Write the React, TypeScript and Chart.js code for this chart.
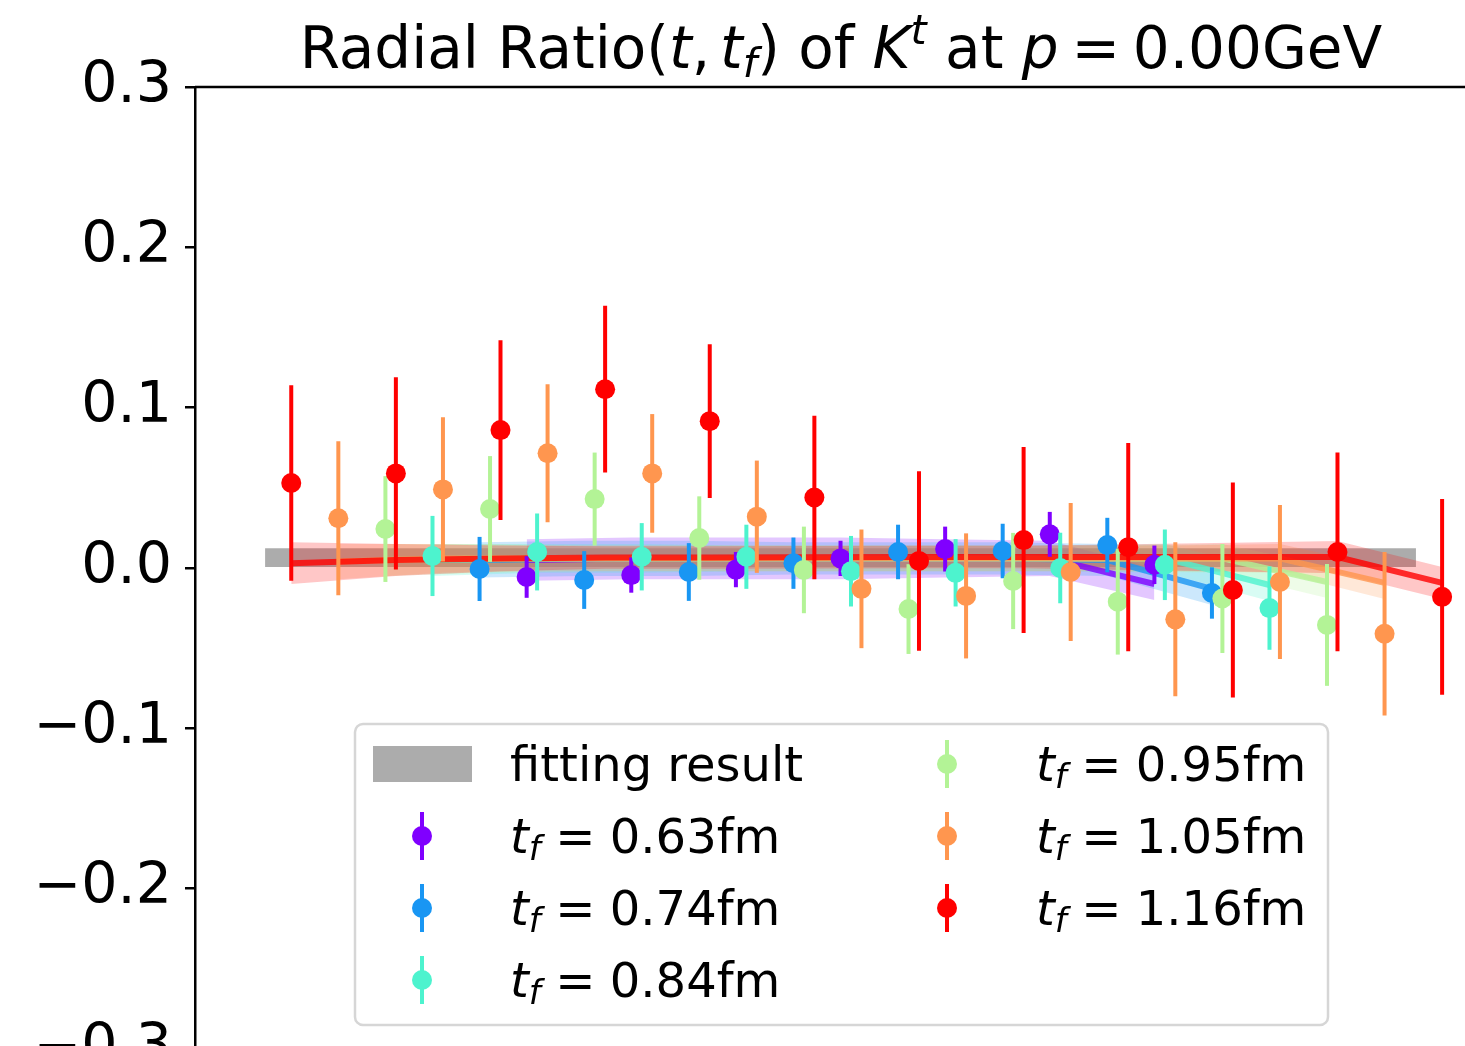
import React, { useEffect, useRef } from 'react';
import { Chart, registerables } from 'chart.js';

Chart.register(...registerables);

// ---------- data ----------
const TF_LABELS = ['0.63fm', '0.74fm', '0.84fm', '0.95fm', '1.05fm', '1.16fm'];
const TF_COLORS = ['#8000ff', '#1996f3', '#4df3ce', '#b3f396', '#ff964f', '#ff0000'];

const X_063 = [-3, -2, -1, 0, 1, 2, 3];
const Y_063 = [-0.0056, -0.0044, -0.001, 0.006, 0.0118, 0.021, 0.002];
const E_063 = [0.013, 0.011, 0.011, 0.011, 0.014, 0.014, 0.012];
const FIT_063 = [0.005, 0.006, 0.006, 0.006, 0.006, 0.006, -0.010];
const BAND_063 = [0.013, 0.013, 0.013, 0.013, 0.012, 0.011, 0.010];

const X_074 = [-3.45, -2.45, -1.45, -0.45, 0.55, 1.55, 2.55, 3.55];
const Y_074 = [-0.0006, -0.0075, -0.0025, 0.003, 0.010, 0.0106, 0.0143, -0.0156];
const E_074 = [0.020, 0.018, 0.018, 0.016, 0.017, 0.017, 0.017, 0.016];
const FIT_074 = [0.005, 0.006, 0.006, 0.006, 0.006, 0.006, 0.005, -0.013];
const BAND_074 = [0.011, 0.011, 0.011, 0.010, 0.010, 0.010, 0.010, 0.010];

const X_084 = [-3.9, -2.9, -1.9, -0.9, 0.1, 1.1, 2.1, 3.1, 4.1];
const Y_084 = [0.0075, 0.010, 0.007, 0.007, -0.002, -0.003, 0.000, 0.002, -0.025];
const E_084 = [0.025, 0.024, 0.021, 0.020, 0.022, 0.021, 0.022, 0.022, 0.026];
const FIT_084 = [0.005, 0.006, 0.006, 0.006, 0.006, 0.006, 0.006, 0.006, -0.0106];
const BAND_084 = [0.010, 0.009, 0.009, 0.008, 0.008, 0.008, 0.008, 0.009, 0.010];

const X_095 = [-4.35, -3.35, -2.35, -1.35, -0.35, 0.65, 1.65, 2.65, 3.65, 4.65];
const Y_095 = [0.0243, 0.0368, 0.043, 0.0187, -0.0012, -0.0256, -0.0081, -0.021, -0.019, -0.0355];
const E_095 = [0.033, 0.033, 0.029, 0.026, 0.027, 0.028, 0.030, 0.033, 0.034, 0.038];
const FIT_095 = [0.005, 0.006, 0.006, 0.006, 0.006, 0.006, 0.006, 0.006, 0.006, -0.0087];
const BAND_095 = [0.010, 0.009, 0.008, 0.008, 0.008, 0.008, 0.008, 0.008, 0.009, 0.010];

const X_105 = [-4.8, -3.8, -2.8, -1.8, -0.8, 0.2, 1.2, 2.2, 3.2, 4.2, 5.2];
const Y_105 = [0.031, 0.049, 0.0716, 0.059, 0.032, -0.013, -0.0174, -0.0025, -0.032, -0.0087, -0.041];
const E_105 = [0.048, 0.045, 0.043, 0.037, 0.035, 0.037, 0.039, 0.043, 0.048, 0.048, 0.051];
const FIT_105 = [0.004, 0.006, 0.006, 0.006, 0.006, 0.006, 0.006, 0.006, 0.006, 0.006, -0.0093];
const BAND_105 = [0.011, 0.009, 0.008, 0.008, 0.008, 0.008, 0.008, 0.008, 0.008, 0.009, 0.010];

const X_116 = [-5.25, -4.25, -3.25, -2.25, -1.25, -0.25, 0.75, 1.75, 2.75, 3.75, 4.75, 5.75];
const Y_116 = [0.053, 0.059, 0.086, 0.1115, 0.0916, 0.044, 0.0044, 0.0174, 0.013, -0.0137, 0.010, -0.018];
const E_116 = [0.061, 0.060, 0.056, 0.052, 0.048, 0.051, 0.056, 0.058, 0.065, 0.067, 0.062, 0.061];
const FIT_116 = [0.003, 0.005, 0.006, 0.0065, 0.0066, 0.0067, 0.0068, 0.0068, 0.0068, 0.0068, 0.0068, -0.0093];
const BAND_116 = [0.013, 0.010, 0.008, 0.007, 0.007, 0.007, 0.007, 0.007, 0.008, 0.009, 0.010, 0.010];

const FIT_RESULT_X = [-5.5, 5.5];
const FIT_RESULT_LOW = [0.0006, 0.0006];
const FIT_RESULT_HIGH = [0.0123, 0.0123];

const X_MIN = -6.17;
const X_MAX = 6.16;
const Y_TICKS = [-0.3, -0.2, -0.1, 0.0, 0.1, 0.2, 0.3];
const Y_TICK_LABELS = ['\u22120.3', '\u22120.2', '\u22120.1', '0.0', '0.1', '0.2', '0.3'];

const SERIES = [
  { x: X_063, y: Y_063, e: E_063, fit: FIT_063, band: BAND_063 },
  { x: X_074, y: Y_074, e: E_074, fit: FIT_074, band: BAND_074 },
  { x: X_084, y: Y_084, e: E_084, fit: FIT_084, band: BAND_084 },
  { x: X_095, y: Y_095, e: E_095, fit: FIT_095, band: BAND_095 },
  { x: X_105, y: Y_105, e: E_105, fit: FIT_105, band: BAND_105 },
  { x: X_116, y: Y_116, e: E_116, fit: FIT_116, band: BAND_116 },
];

const GRAY = 'rgba(128,128,128,0.65)';
const FONT = '"DejaVu Sans"';

function hexToRgba(hex: string, a: number) {
  const n = parseInt(hex.slice(1), 16);
  return `rgba(${(n >> 16) & 255},${(n >> 8) & 255},${n & 255},${a})`;
}

type Piece = { t: string; italic?: boolean; scale?: number; dy?: number; gap?: number };

function drawRich(ctx: CanvasRenderingContext2D, pieces: Piece[], x: number, y: number, size: number, align: 'left' | 'center') {
  const fontFor = (p: Piece) => `${p.italic ? 'italic ' : ''}${Math.round(size * (p.scale || 1))}px ${FONT}`;
  let total = 0;
  for (const p of pieces) {
    ctx.font = fontFor(p);
    total += (p.gap || 0) * size + ctx.measureText(p.t).width;
  }
  let cx = align === 'center' ? x - total / 2 : x;
  ctx.textAlign = 'left';
  ctx.textBaseline = 'alphabetic';
  for (const p of pieces) {
    cx += (p.gap || 0) * size;
    ctx.font = fontFor(p);
    ctx.fillText(p.t, cx, y + (p.dy || 0) * size);
    cx += ctx.measureText(p.t).width;
  }
}

const errorBarPlugin = {
  id: 'errorBars',
  beforeDatasetDraw(chart: any, args: any) {
    const ds = chart.data.datasets[args.index];
    if (!ds.errors) return;
    const { ctx, scales } = chart;
    ctx.save();
    ctx.strokeStyle = ds.pointBackgroundColor;
    ctx.lineWidth = 4;
    ds.data.forEach((pt: any, i: number) => {
      const px = scales.x.getPixelForValue(pt.x);
      const y1 = scales.y.getPixelForValue(pt.y + ds.errors[i]);
      const y2 = scales.y.getPixelForValue(pt.y - ds.errors[i]);
      ctx.beginPath();
      ctx.moveTo(px, y1);
      ctx.lineTo(px, y2);
      ctx.stroke();
    });
    ctx.restore();
  },
};

const decorPlugin = {
  id: 'decor',
  afterDraw(chart: any) {
    const { ctx, chartArea } = chart;
    const { left, top, right, bottom } = chartArea;
    ctx.save();
    // spines
    ctx.strokeStyle = '#000';
    ctx.lineWidth = 2.5;
    ctx.beginPath();
    ctx.moveTo(left, top);
    ctx.lineTo(right, top);
    ctx.lineTo(right, bottom);
    ctx.lineTo(left, bottom);
    ctx.stroke();

    // title
    ctx.fillStyle = '#000';
    drawRich(
      ctx,
      [
        { t: 'Radial Ratio(' },
        { t: 't', italic: true },
        { t: ',' },
        { t: 't', italic: true, gap: 0.17 },
        { t: 'f', italic: true, scale: 0.7, dy: 0.15 },
        { t: ')' },
        { t: ' of ' },
        { t: 'K', italic: true },
        { t: 't', italic: true, scale: 0.7, dy: -0.42 },
        { t: ' at ' },
        { t: 'p', italic: true },
        { t: '=', gap: 0.22 },
        { t: '0.00', gap: 0.22 },
        { t: 'GeV' },
      ],
      (left + right) / 2 + 1,
      top - 19,
      58,
      'center'
    );

    // legend
    const lx = left + 160;
    const ly = top + 637;
    const lw = 973;
    const lh = 301;
    ctx.beginPath();
    ctx.roundRect(lx, ly, lw, lh, 8);
    ctx.fillStyle = 'rgba(255,255,255,0.8)';
    ctx.fill();
    ctx.strokeStyle = '#d6d6d6';
    ctx.lineWidth = 2.5;
    ctx.stroke();

    const rowY = [ly + 40, ly + 112, ly + 184, ly + 256];
    const col1Marker = lx + 67;
    const col1Text = lx + 155;
    const col2Marker = lx + 592;
    const col2Text = lx + 681;
    const fs = 48;

    // fitting result
    ctx.fillStyle = GRAY;
    ctx.fillRect(lx + 18, rowY[0] - 18, 99, 36);
    ctx.fillStyle = '#000';
    ctx.font = `${fs}px ${FONT}`;
    ctx.textAlign = 'left';
    ctx.textBaseline = 'alphabetic';
    ctx.fillText('fitting result', col1Text, rowY[0] + 17);

    const slots = [
      [col1Marker, col1Text, rowY[1]],
      [col1Marker, col1Text, rowY[2]],
      [col1Marker, col1Text, rowY[3]],
      [col2Marker, col2Text, rowY[0]],
      [col2Marker, col2Text, rowY[1]],
      [col2Marker, col2Text, rowY[2]],
    ];
    TF_LABELS.forEach((lab, k) => {
      const [mx, tx, cy] = slots[k];
      const c = TF_COLORS[k];
      ctx.strokeStyle = c;
      ctx.lineWidth = 4;
      ctx.beginPath();
      ctx.moveTo(mx, cy - 24);
      ctx.lineTo(mx, cy + 24);
      ctx.stroke();
      ctx.fillStyle = c;
      ctx.beginPath();
      ctx.arc(mx, cy, 10, 0, Math.PI * 2);
      ctx.fill();
      ctx.fillStyle = '#000';
      drawRich(
        ctx,
        [
          { t: 't', italic: true },
          { t: 'f', italic: true, scale: 0.7, dy: 0.15 },
          { t: '=', gap: 0.3 },
          { t: lab, gap: 0.3 },
        ],
        tx,
        cy + 17,
        fs,
        'left'
      );
    });
    ctx.restore();
  },
};

export default function App() {
  const ref = useRef<HTMLCanvasElement | null>(null);

  useEffect(() => {
    if (!ref.current) return;
    const datasets: any[] = [];
    datasets.push({
      data: FIT_RESULT_X.map((x, i) => ({ x, y: FIT_RESULT_LOW[i] })),
      showLine: true, borderWidth: 0, pointRadius: 0, fill: false, order: 100,
    });
    datasets.push({
      data: FIT_RESULT_X.map((x, i) => ({ x, y: FIT_RESULT_HIGH[i] })),
      showLine: true, borderWidth: 0, pointRadius: 0, fill: '-1', backgroundColor: GRAY, order: 100,
    });
    SERIES.forEach((s, k) => {
      const c = TF_COLORS[k];
      datasets.push({
        data: s.x.map((x, i) => ({ x, y: s.fit[i] - s.band[i] })),
        showLine: true, borderWidth: 0, pointRadius: 0, fill: false, order: 90 - k,
      });
      datasets.push({
        data: s.x.map((x, i) => ({ x, y: s.fit[i] + s.band[i] })),
        showLine: true, borderWidth: 0, pointRadius: 0, fill: '-1',
        backgroundColor: hexToRgba(c, 0.22), order: 90 - k,
      });
      datasets.push({
        data: s.x.map((x, i) => ({ x, y: s.fit[i] })),
        showLine: true, borderColor: hexToRgba(c, 0.8), borderWidth: 6, pointRadius: 0, fill: false, order: 60 - k,
      });
      datasets.push({
        label: TF_LABELS[k],
        data: s.x.map((x, i) => ({ x, y: s.y[i] })),
        showLine: false, pointRadius: 10, pointBorderWidth: 0,
        pointBackgroundColor: c, backgroundColor: c, borderColor: c,
        errors: s.e, fill: false, order: 20 - k,
      });
    });

    const chart = new Chart(ref.current, {
      type: 'line',
      data: { datasets },
      options: {
        animation: false,
        responsive: false,
        devicePixelRatio: 1,
        events: [],
        layout: { padding: { top: 87, bottom: 101, left: 0, right: 75 } },
        elements: { line: { tension: 0 } },
        plugins: {
          legend: { display: false },
          title: { display: false },
          tooltip: { enabled: false },
        },
        scales: {
          x: { type: 'linear', min: X_MIN, max: X_MAX, display: false },
          y: {
            type: 'linear',
            min: -0.3,
            max: 0.3,
            afterBuildTicks: (s: any) => {
              s.ticks = Y_TICKS.map((v) => ({ value: v }));
            },
            afterFit: (s: any) => {
              s.width = 195;
            },
            ticks: {
              callback: (v: any) => {
                const i = Y_TICKS.findIndex((t) => Math.abs(t - Number(v)) < 1e-9);
                return i >= 0 ? Y_TICK_LABELS[i] : '';
              },
              font: { family: 'DejaVu Sans', size: 57 },
              color: '#000',
              padding: 13,
            },
            grid: { drawOnChartArea: false, drawTicks: true, tickLength: 10, color: '#000', lineWidth: 2.5 },
            border: { display: true, color: '#000', width: 2.5 },
          },
        },
      } as any,
      plugins: [errorBarPlugin, decorPlugin],
    });
    return () => chart.destroy();
  }, []);

  return (
    <div style={{ position: 'fixed', left: 0, top: 0, width: 1465, height: 1046, overflow: 'hidden', background: '#fff' }}>
      <canvas ref={ref} width={1560} height={1150} style={{ display: 'block', width: 1560, height: 1150 }} />
    </div>
  );
}
